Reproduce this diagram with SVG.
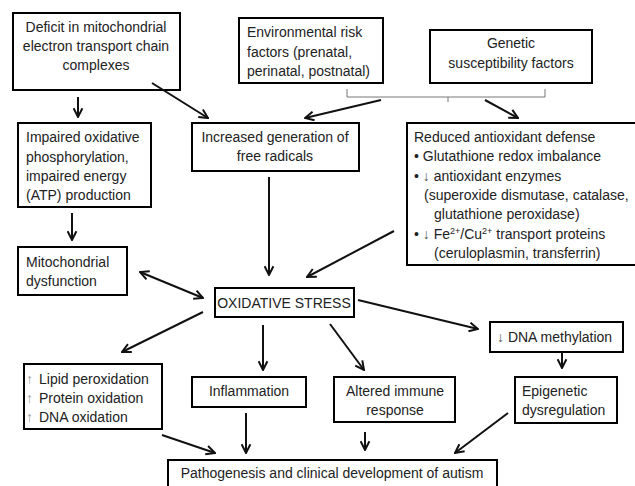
<svg xmlns="http://www.w3.org/2000/svg" width="635" height="486" viewBox="0 0 635 486">
<defs>
<style>
.box{fill:#fff;stroke:#000;stroke-width:2}
text{font-family:"Liberation Sans",Arial,sans-serif;font-size:14px;fill:#222}
.c{text-anchor:middle}
.ar{stroke:#111;stroke-width:2;fill:none;marker-end:url(#ah)}
.gr{fill:#999}
.sup{font-size:9px}
</style>
<marker id="ah" viewBox="0 0 10 10" refX="9" refY="5" markerWidth="11" markerHeight="11" markerUnits="userSpaceOnUse" orient="auto-start-reverse">
<path d="M1,1 L9,5 L1,9" fill="none" stroke="#111" stroke-width="1.8"/>
</marker>
</defs>
<rect width="635" height="486" fill="#fff"/>

<g id="n-deficit">
<rect class="box" x="13" y="13" width="167" height="77"/>
<text class="c" x="96" y="32">Deficit in mitochondrial</text>
<text class="c" x="96" y="51">electron transport chain</text>
<text class="c" x="96" y="70">complexes</text>
</g>
<g id="n-env">
<rect class="box" x="239" y="18" width="144" height="65"/>
<text x="247" y="37">Environmental risk</text>
<text x="247" y="57">factors (prenatal,</text>
<text x="247" y="76">perinatal, postnatal)</text>
</g>
<g id="n-genetic">
<rect class="box" x="430" y="30" width="162" height="53"/>
<text class="c" x="511" y="48">Genetic</text>
<text class="c" x="511" y="68">susceptibility factors</text>
</g>
<g id="n-impaired">
<rect class="box" x="18" y="123" width="133" height="84"/>
<text x="26" y="142">Impaired oxidative</text>
<text x="26" y="162">phosphorylation,</text>
<text x="26" y="181">impaired energy</text>
<text x="26" y="200">(ATP) production</text>
</g>
<g id="n-increased">
<rect class="box" x="192" y="123" width="167" height="48"/>
<text class="c" x="275" y="142">Increased generation of</text>
<text class="c" x="275" y="161">free radicals</text>
</g>
<g id="n-reduced">
<rect class="box" x="407" y="123" width="235" height="142"/>
<text x="414" y="142">Reduced antioxidant defense</text>
<text x="414" y="161">• Glutathione redox imbalance</text>
<text x="414" y="181">• <tspan fill="#555">↓</tspan> antioxidant enzymes</text>
<text x="424" y="200">(superoxide dismutase, catalase,</text>
<text x="434" y="219">glutathione peroxidase)</text>
<text x="414" y="239">• <tspan fill="#555">↓</tspan> Fe<tspan class="sup" dy="-5">2+</tspan><tspan dy="5">/Cu</tspan><tspan class="sup" dy="-5">2+</tspan><tspan dy="5"> transport proteins</tspan></text>
<text x="434" y="258">(ceruloplasmin, transferrin)</text>
</g>
<g id="n-mito">
<rect class="box" x="18" y="247" width="109" height="48"/>
<text x="26" y="267">Mitochondrial</text>
<text x="26" y="286">dysfunction</text>
</g>
<g id="n-oxstress">
<rect class="box" x="215" y="288" width="139" height="29"/>
<text class="c" x="284" y="308">OXIDATIVE STRESS</text>
</g>
<g id="n-dnameth">
<rect class="box" x="490" y="322" width="133" height="30"/>
<text x="497" y="342"><tspan fill="#555">↓</tspan> DNA methylation</text>
</g>
<g id="n-lipid">
<rect class="box" x="24" y="364" width="138" height="65"/>
<text x="26" y="384"><tspan class="gr">↑</tspan></text>
<text x="39" y="384">Lipid peroxidation</text>
<text x="26" y="403"><tspan class="gr">↑</tspan></text>
<text x="39" y="403">Protein oxidation</text>
<text x="26" y="422"><tspan class="gr">↑</tspan></text>
<text x="39" y="422">DNA oxidation</text>
</g>
<g id="n-inflam">
<rect class="box" x="192" y="377" width="114" height="30"/>
<text class="c" x="249" y="396">Inflammation</text>
</g>
<g id="n-immune">
<rect class="box" x="334" y="377" width="121" height="45"/>
<text class="c" x="395" y="396">Altered immune</text>
<text class="c" x="395" y="415">response</text>
</g>
<g id="n-epi">
<rect class="box" x="515" y="377" width="102" height="46"/>
<text x="522" y="396">Epigenetic</text>
<text x="522" y="415">dysregulation</text>
</g>
<g id="n-patho">
<rect class="box" x="168" y="460" width="329" height="40"/>
<text class="c" x="332" y="478">Pathogenesis and clinical development of autism</text>
</g>

<g id="connectors">
<path d="M347,89 V97 H545 V89 M448,97 V102" fill="none" stroke="#777" stroke-width="1"/>
<line class="ar" x1="78" y1="97" x2="78" y2="117"/>
<line class="ar" x1="152" y1="83" x2="208" y2="118"/>
<line class="ar" x1="381" y1="100" x2="305" y2="118"/>
<line class="ar" x1="485" y1="100" x2="518" y2="118"/>
<line class="ar" x1="72" y1="213" x2="72" y2="240"/>
<line class="ar" x1="269" y1="177" x2="269" y2="275"/>
<line class="ar" x1="394" y1="231" x2="307" y2="277"/>
<line class="ar" x1="140" y1="272" x2="203" y2="298" style="marker-start:url(#ah)"/>
<line class="ar" x1="203" y1="312" x2="122" y2="352"/>
<line class="ar" x1="263" y1="325" x2="263" y2="370"/>
<line class="ar" x1="330" y1="324" x2="364" y2="370"/>
<line class="ar" x1="358" y1="300" x2="478" y2="329"/>
<line class="ar" x1="562" y1="352" x2="562" y2="368"/>
<line class="ar" x1="162" y1="435" x2="215" y2="453"/>
<line class="ar" x1="246" y1="413" x2="246" y2="453"/>
<line class="ar" x1="365" y1="432" x2="365" y2="450"/>
<line class="ar" x1="508" y1="413" x2="455" y2="453"/>
</g>
</svg>
